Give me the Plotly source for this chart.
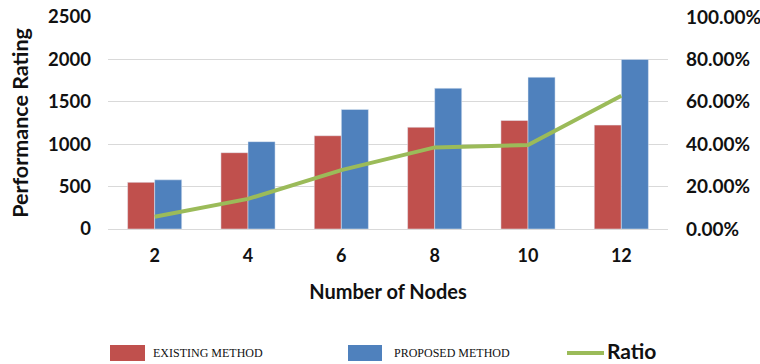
import plotly.graph_objects as go

nodes = ["2", "4", "6", "8", "10", "12"]
existing = [550, 900, 1100, 1200, 1280, 1225]
proposed = [580, 1030, 1410, 1660, 1790, 2000]
ratio = [0.058, 0.142, 0.278, 0.385, 0.396, 0.629]
series_names = ["EXISTING METHOD", "PROPOSED METHOD", "Ratio"]

RED = "#C0504D"
BLUE = "#4F81BD"
GREEN = "#9BBB59"
FONT = "Lato"
TXT = "#111111"

W, H = 760, 364
ML, MR, MT, MB = 108, 92, 17, 135
PW, PH = W - ML - MR, H - MT - MB


def px(x):
    return (x - ML) / PW


def py(y):
    return (H - MB - y) / PH


fig = go.Figure()
fig.add_trace(go.Bar(x=nodes, y=existing, name=series_names[0],
                     marker=dict(color=RED), showlegend=False))
fig.add_trace(go.Bar(x=nodes, y=proposed, name=series_names[1],
                     marker=dict(color=BLUE), showlegend=False))
fig.add_trace(go.Scatter(x=nodes, y=ratio, name=series_names[2], mode="lines",
                         line=dict(color=GREEN, width=4), yaxis="y2", showlegend=False))

# legend drawn below the plot
shapes = [
    dict(type="rect", xref="paper", yref="paper", x0=px(110), x1=px(145), y0=py(361), y1=py(345),
         fillcolor=RED, line=dict(width=0)),
    dict(type="rect", xref="paper", yref="paper", x0=px(348), x1=px(382), y0=py(361), y1=py(345),
         fillcolor=BLUE, line=dict(width=0)),
    dict(type="line", xref="paper", yref="paper", x0=px(567), x1=px(604), y0=py(353), y1=py(353),
         line=dict(color=GREEN, width=4)),
]
serif = dict(family="Liberation Serif", size=12, color=TXT)
annotations = [
    dict(text=series_names[0], xref="paper", yref="paper", x=px(151), y=py(353),
         xanchor="left", yanchor="middle", showarrow=False, font=serif),
    dict(text=series_names[1], xref="paper", yref="paper", x=px(392), y=py(353),
         xanchor="left", yanchor="middle", showarrow=False, font=serif),
    dict(text="<b>" + series_names[2] + "</b>", xref="paper", yref="paper", x=px(606), y=py(350),
         xanchor="left", yanchor="middle", showarrow=False, borderpad=0,
         font=dict(family=FONT, size=21, color=TXT)),
]

fig.update_layout(
    width=W, height=H,
    margin=dict(l=ML, r=MR, t=MT, b=MB, autoexpand=False),
    showlegend=False,
    paper_bgcolor="white", plot_bgcolor="white",
    barmode="group", bargap=0.42, bargroupgap=0,
    font=dict(family=FONT, color=TXT),
    shapes=shapes, annotations=annotations,
    xaxis=dict(type="category", showgrid=False, showline=False, zeroline=False, automargin=False,
               tickfont=dict(family=FONT, size=18, color=TXT, weight="bold"),
               ticks="", ticklabelstandoff=14,
               title=dict(text="<b>Number of Nodes</b>", font=dict(family=FONT, size=20, color=TXT),
                          standoff=19)),
    yaxis=dict(range=[0, 2500], dtick=500, showgrid=True, gridcolor="#D9D9D9", gridwidth=1,
               zeroline=True, zerolinecolor="#D9D9D9", zerolinewidth=1, showline=False,
               automargin=False,
               tickfont=dict(family=FONT, size=18.5, color=TXT, weight="bold"),
               ticks="", ticklabelstandoff=16,
               title=dict(text="<b>Performance Rating</b>", font=dict(family=FONT, size=21.5, color=TXT),
                          standoff=13)),
    yaxis2=dict(range=[0, 1], dtick=0.2, tickformat=".2%", overlaying="y", side="right",
                showgrid=False, zeroline=False, showline=False, ticks="", ticklabelstandoff=17,
                automargin=False,
                tickfont=dict(family=FONT, size=19, color=TXT, weight="bold")),
)

fig.write_html("out.html", config={"displayModeBar": False},
               post_script="document.body.style.margin='0';document.body.style.overflow='hidden';")
